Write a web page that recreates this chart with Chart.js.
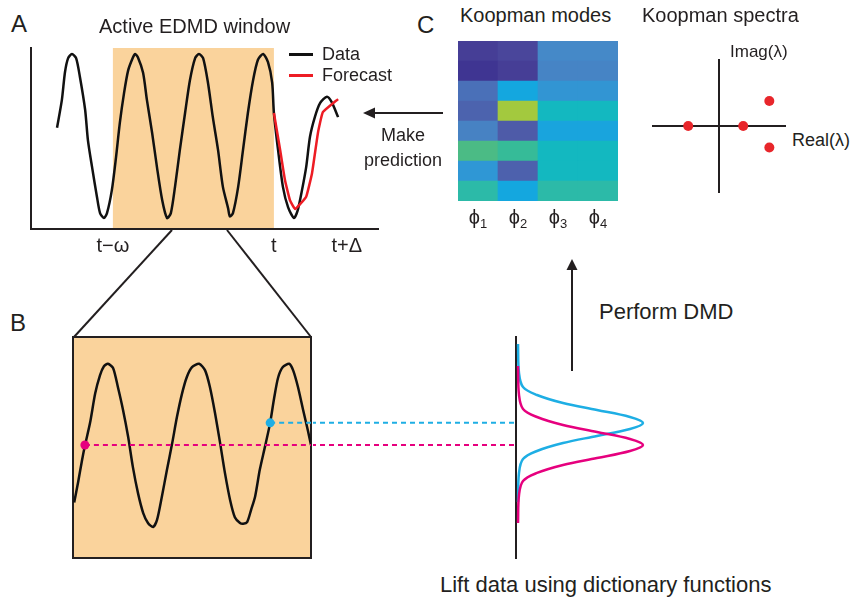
<!DOCTYPE html>
<html>
<head>
<meta charset="utf-8">
<script src="https://cdn.jsdelivr.net/npm/chart.js@4.4.1/dist/chart.umd.min.js"></script>
<style>
  body { margin: 0; background: #fff; }
  #fig { position: relative; width: 854px; height: 600px; overflow: hidden;
         font-family: "Liberation Sans", Arial, sans-serif; color: #231f20; }
  #fig canvas, #fig svg { position: absolute; }
  .lbl { position: absolute; line-height: 1; white-space: nowrap; }
  .key { position: absolute; height: 2.5px; width: 24px; }
  .phi { position: absolute; width: 40px; text-align: center; font-size: 20px; line-height: 1; }
  .phi sub { font-size: 13px; vertical-align: -4px; }
</style>
</head>
<body>
<div id="fig">
  <svg width="854" height="600" style="left:0;top:0">
    <g stroke="#231f20" stroke-width="2" fill="none">
      <line x1="172" y1="230" x2="74" y2="337"/>
      <line x1="227" y1="230" x2="311" y2="337"/>
      <line x1="443" y1="113" x2="372" y2="113"/>
      <line x1="572" y1="371" x2="572" y2="268"/>
    </g>
    <polygon points="363,113 375,107.5 375,118.5" fill="#231f20"/>
    <polygon points="572,259 566.5,270 577.5,270" fill="#231f20"/>
  </svg>

  <canvas id="windowChart" width="370" height="225" style="left:20px;top:40px"></canvas>
  <canvas id="zoomChart" width="248" height="231" style="left:68px;top:332px"></canvas>
  <canvas id="liftChart" width="347" height="231" style="left:313px;top:332px"></canvas>
  <canvas id="modesChart" width="160" height="160" style="left:458px;top:41px"></canvas>
  <canvas id="spectraChart" width="142" height="142" style="left:648px;top:55px"></canvas>

  <div class="lbl" style="left:11px;top:12px;font-size:24px">A</div>
  <div class="lbl" style="left:10px;top:311px;font-size:24px">B</div>
  <div class="lbl" style="left:417px;top:13px;font-size:24px">C</div>
  <div class="lbl" style="left:99px;top:16px;font-size:20px">Active EDMD window</div>
  <div class="key" style="left:289px;top:53px;background:#111"></div>
  <div class="lbl" style="left:322px;top:45px;font-size:18px">Data</div>
  <div class="key" style="left:289px;top:74px;background:#ed1c24"></div>
  <div class="lbl" style="left:322px;top:66px;font-size:18px">Forecast</div>
  <div class="lbl" style="left:363px;top:123px;width:80px;font-size:18px;line-height:25px;text-align:center">Make<br>prediction</div>
  <div class="lbl" style="left:460px;top:5px;font-size:20px">Koopman modes</div>
  <div class="lbl" style="left:642px;top:5px;font-size:20px">Koopman spectra</div>
  <div class="lbl" style="left:730px;top:43px;font-size:17px">Imag(λ)</div>
  <div class="lbl" style="left:792px;top:131px;font-size:18px">Real(λ)</div>
  <div class="lbl" style="left:599px;top:301px;font-size:22px">Perform DMD</div>
  <div class="lbl" style="left:440px;top:574px;font-size:22px">Lift data using dictionary functions</div>
  <div id="phiLabels"></div>
</div>

<script>
/* A: full record, window [t-ω, t], forecast past t */
const DATA_T = [7.5, 8.9, 9.8, 10.7, 11.8, 13.0, 14.1, 15.6, 16.4, 17.6, 19.0, 19.9, 21.0, 21.9, 23.3,
  24.5, 25.6, 26.8, 28.0, 29.4, 30.0, 30.8, 32.3, 33.4, 34.9, 36.3, 37.8, 39.2, 40.3, 41.5,
  42.9, 44.4, 45.8, 47.3, 48.4, 49.6, 51.0, 52.4, 53.9, 55.3, 56.8, 57.3, 58.2, 59.7, 61.1,
  62.5, 64.0, 65.4, 66.9, 68.3, 69.5, 70.0, 71.2, 72.6, 74.1, 75.8, 76.9, 78.1, 79.3, 80.4,
  81.8, 83.3, 85.3, 86.7, 88.5];
const DATA_Y = [0.10, 0.44, 0.78, 0.95, 1.00, 0.95, 0.72, 0.32, -0.05, -0.38, -0.74, -0.94, -1.00, -0.94, -0.66,
  -0.26, 0.16, 0.52, 0.80, 0.96, 1.00, 0.96, 0.77, 0.44, 0.04, -0.38, -0.78, -1.00, -0.94, -0.62,
  -0.17, 0.28, 0.68, 0.95, 1.00, 0.95, 0.65, 0.23, -0.17, -0.62, -0.88, -0.98, -0.94, -0.62, -0.17,
  0.28, 0.68, 0.93, 1.00, 0.90, 0.65, 0.28, -0.17, -0.62, -0.87, -1.00, -0.90, -0.66, -0.38, -0.01,
  0.23, 0.40, 0.48, 0.41, 0.23];
const FORECAST_T = [70.0, 71.8, 73.2, 74.6, 76.1, 79.3, 81.0, 82.7, 84.1, 88.5];
const FORECAST_Y = [0.28, -0.17, -0.54, -0.78, -0.89, -0.74, -0.45, 0.04, 0.29, 0.45];
const WINDOW = [23.6, 70.0];
const TIME_TICKS = [23.6, 70.0, 91.0];
const TIME_TICK_LABELS = ['t\u2212\u03c9', 't', 't+\u0394'];

/* B: the window, zoomed */
const ZOOM_T = [0.3, 1.3, 2.3, 3.0, 4.3, 5.6, 6.8, 7.8, 8.8, 10.1, 11.3, 12.6, 13.9, 15.1, 16.4, 17.7,
  18.9, 20.2, 21.2, 22.4, 23.7, 25.0, 26.2, 27.5, 28.7, 30.0, 31.8, 33.3, 34.5, 35.8, 37.1, 38.3,
  39.6, 40.8, 42.1, 42.9, 43.9, 44.9, 45.9, 47.1, 48.4, 49.7, 50.7, 51.7, 52.9, 54.5, 55.5, 56.7,
  58.0, 59.2, 60.0];
const ZOOM_Y = [-0.70, -0.45, -0.18, -0.01, 0.27, 0.63, 0.85, 0.96, 0.99, 0.94, 0.71, 0.43, 0.10, -0.27, -0.59, -0.83,
  -0.95, -1.00, -0.91, -0.63, -0.30, 0.02, 0.34, 0.63, 0.83, 0.95, 0.99, 0.91, 0.71, 0.39, 0.02, -0.34,
  -0.67, -0.88, -0.95, -0.96, -0.94, -0.79, -0.63, -0.30, -0.02, 0.27, 0.57, 0.82, 0.95, 0.99, 0.91, 0.71,
  0.43, 0.18, 0.00];
const SAMPLE_T = [3.0, 49.7];     // magenta, cyan
const SAMPLE_LEVEL = [0.0, 0.27];

/* dictionary functions (value of function, state) */
const CYAN_PHI = [0.016, 0.024, 0.056, 0.168, 0.376, 0.648, 0.912, 1.016, 0.912, 0.648, 0.376, 0.168, 0.056, 0.024, 0.016];
const CYAN_X = [1.232, 0.878, 0.707, 0.610, 0.512, 0.427, 0.341, 0.268, 0.195, 0.110, 0.024, -0.073, -0.171, -0.341, -0.695];
const MAGENTA_PHI = [0.016, 0.024, 0.056, 0.168, 0.376, 0.648, 0.912, 1.016, 0.912, 0.648, 0.376, 0.168, 0.056, 0.024, 0.016];
const MAGENTA_X = [0.963, 0.610, 0.439, 0.341, 0.244, 0.159, 0.073, 0.0, -0.073, -0.159, -0.244, -0.341, -0.439, -0.610, -0.951];

/* C: Koopman modes, rows top to bottom */
const MODE_LABELS = ['1', '2', '3', '4'];
const MODE_PHI1 = [0.06, 0.00, 0.30, 0.24, 0.37, 0.85, 0.47, 0.70];
const MODE_PHI2 = [0.11, 0.06, 0.53, 1.00, 0.20, 0.77, 0.23, 0.53];
const MODE_PHI3 = [0.40, 0.38, 0.46, 0.62, 0.52, 0.62, 0.62, 0.70];
const MODE_PHI4 = [0.40, 0.38, 0.46, 0.62, 0.52, 0.62, 0.62, 0.70];

/* Koopman spectra */
const EIG_RE = [-1.12, 0.88, 1.83, 1.83];
const EIG_IM = [0.0, 0.0, 0.91, -0.78];

const INK = '#231f20';
const ORANGE = '#fad39c';
const MAGENTA = '#e6007e';
const CYAN = '#1eaee4';
const MODE_STOPS = [[0, '#3f3592'], [0.1, '#4a4499'], [0.2, '#4e5ba8'], [0.3, '#4a70b8'], [0.4, '#4589c8'],
  [0.47, '#2f97d5'], [0.53, '#14a7df'], [0.62, '#13b8c0'], [0.7, '#2cbaa8'], [0.77, '#36bb98'],
  [0.85, '#4bbb85'], [1, '#a3c93e']];

Chart.defaults.font.family = '"Liberation Sans", Arial, sans-serif';
Chart.defaults.color = INK;
Chart.defaults.animation = false;
Chart.defaults.events = [];
Chart.defaults.plugins.legend.display = false;
Chart.defaults.plugins.tooltip.enabled = false;

const pts = (xs, ys) => xs.map((x, i) => ({ x, y: ys[i] }));
const curve = (data, color, extra) => Object.assign({ data, showLine: true, borderColor: color,
  borderWidth: 2.5, pointRadius: 0, fill: false, tension: 0.3 }, extra);
const hidden = { grid: { display: false, drawTicks: false }, ticks: { display: false } };
const edge = (extra) => Object.assign({}, hidden, { border: { color: INK, width: 2 } }, extra);

function mix(a, b, f) {
  const pa = [1, 3, 5].map((i) => parseInt(a.substr(i, 2), 16));
  const pb = [1, 3, 5].map((i) => parseInt(b.substr(i, 2), 16));
  return 'rgb(' + pa.map((v, i) => Math.round(v + (pb[i] - v) * f)).join(',') + ')';
}
function modeColour(v) {
  for (let i = 1; i < MODE_STOPS.length; i++) {
    const [v0, c0] = MODE_STOPS[i - 1], [v1, c1] = MODE_STOPS[i];
    if (v <= v1) return mix(c0, c1, (v - v0) / (v1 - v0));
  }
  return MODE_STOPS[MODE_STOPS.length - 1][1];
}

// orange background: the window span in A, the whole plot area in B
const shade = {
  id: 'shade',
  beforeDraw(chart, args, opts) {
    if (!opts.color) return;
    const { ctx, chartArea: a, scales: { x } } = chart;
    const l = opts.from == null ? a.left : x.getPixelForValue(opts.from);
    const r = opts.to == null ? a.right : x.getPixelForValue(opts.to);
    ctx.save();
    ctx.fillStyle = opts.color;
    ctx.fillRect(l, a.top, r - l, a.bottom - a.top);
    ctx.restore();
  },
};

/* ---------- A ---------- */
new Chart(document.getElementById('windowChart'), {
  type: 'scatter',
  data: { datasets: [
    curve(pts(FORECAST_T, FORECAST_Y), '#ed1c24', { tension: 0.1 }),
    curve(pts(DATA_T, DATA_Y), '#111', { tension: 0.25 }),
  ] },
  options: {
    responsive: false,
    layout: { padding: { left: 11, top: 8, right: 12, bottom: 0 } },
    plugins: { shade: { from: WINDOW[0], to: WINDOW[1], color: ORANGE } },
    scales: {
      x: edge({ min: 0, max: 100,
        afterBuildTicks: (s) => { s.ticks = TIME_TICKS.map((value) => ({ value })); },
        ticks: { display: true, autoSkip: false, maxRotation: 0, padding: 5, color: INK,
          font: { size: 20 }, callback: (v, i) => TIME_TICK_LABELS[i] },
        afterFit: (s) => { s.height = 36; } }),
      y: edge({ min: -1.134, max: 1.073, afterFit: (s) => { s.width = 0; } }),
    },
  },
  plugins: [shade],
});

/* ---------- B ---------- */
const Y_RANGE = { min: -1.378, max: 1.317 };
new Chart(document.getElementById('zoomChart'), {
  type: 'scatter',
  data: { datasets: [
    { data: [{ x: SAMPLE_T[0], y: SAMPLE_LEVEL[0] }], pointRadius: 4.5, pointBackgroundColor: MAGENTA, pointBorderWidth: 0 },
    { data: [{ x: SAMPLE_T[1], y: SAMPLE_LEVEL[1] }], pointRadius: 4.5, pointBackgroundColor: CYAN, pointBorderWidth: 0 },
    curve([{ x: SAMPLE_T[0], y: SAMPLE_LEVEL[0] }, { x: 60, y: SAMPLE_LEVEL[0] }], MAGENTA, { borderWidth: 2, borderDash: [5, 4], tension: 0 }),
    curve([{ x: SAMPLE_T[1], y: SAMPLE_LEVEL[1] }, { x: 60, y: SAMPLE_LEVEL[1] }], CYAN, { borderWidth: 2, borderDash: [5, 4], tension: 0 }),
    curve(pts(ZOOM_T, ZOOM_Y), '#111', { tension: 0.25 }),
  ] },
  options: {
    responsive: false,
    layout: { padding: 5 },
    plugins: { shade: { color: ORANGE } },
    scales: {
      x: edge({ min: 0, max: 60, afterFit: (s) => { s.height = 0; } }),
      x2: edge({ position: 'top', min: 0, max: 60, afterFit: (s) => { s.height = 0; } }),
      y: edge(Object.assign({ afterFit: (s) => { s.width = 0; } }, Y_RANGE)),
      y2: edge(Object.assign({ position: 'right', afterFit: (s) => { s.width = 0; } }, Y_RANGE)),
    },
  },
  plugins: [shade],
});

/* ---------- lifting ---------- */
new Chart(document.getElementById('liftChart'), {
  type: 'scatter',
  data: { datasets: [
    curve(pts(MAGENTA_PHI, MAGENTA_X), MAGENTA, { tension: 0.35 }),
    curve(pts(CYAN_PHI, CYAN_X), CYAN, { tension: 0.35 }),
    curve([{ x: -2, y: SAMPLE_LEVEL[0] }, { x: 0, y: SAMPLE_LEVEL[0] }], MAGENTA, { borderWidth: 2, borderDash: [5, 4], tension: 0 }),
    curve([{ x: -2, y: SAMPLE_LEVEL[1] }, { x: 0, y: SAMPLE_LEVEL[1] }], CYAN, { borderWidth: 2, borderDash: [5, 4], tension: 0 }),
  ] },
  options: {
    responsive: false,
    layout: { padding: { top: 5, bottom: 5, left: 0, right: 0 } },
    scales: {
      x: { display: false, min: -1.624, max: 1.152 },
      y: edge(Object.assign({ position: { x: 0 }, afterFit: (s) => { s.width = 0; } }, Y_RANGE)),
    },
  },
});

/* ---------- C: modes heatmap ---------- */
const modeCols = [MODE_PHI1, MODE_PHI2, MODE_PHI3, MODE_PHI4];
const modeRows = MODE_PHI1.map((_, r) => r).reverse(); // stack bottom row first
new Chart(document.getElementById('modesChart'), {
  type: 'bar',
  data: {
    labels: MODE_LABELS,
    datasets: modeRows.map((r) => ({
      data: MODE_LABELS.map(() => 1),
      backgroundColor: modeCols.map((col) => modeColour(col[r])),
      borderWidth: 0, barPercentage: 1, categoryPercentage: 1,
    })),
  },
  options: {
    responsive: false,
    scales: {
      x: { display: false, stacked: true },
      y: { display: false, stacked: true, min: 0, max: MODE_PHI1.length },
    },
  },
});
document.getElementById('phiLabels').innerHTML = MODE_LABELS
  .map((n, i) => `<div class="phi" style="left:${458 + i * 40}px;top:207px">\u03d5<sub>${n}</sub></div>`).join('');

/* ---------- C: spectra ---------- */
new Chart(document.getElementById('spectraChart'), {
  type: 'scatter',
  data: { datasets: [{ data: pts(EIG_RE, EIG_IM), pointRadius: 5, pointBackgroundColor: '#e8262b', pointBorderWidth: 0 }] },
  options: {
    responsive: false,
    scales: {
      x: edge({ min: -2.4, max: 2.4, position: { y: 0 }, afterFit: (s) => { s.height = 0; } }),
      y: edge({ min: -2.4, max: 2.4, position: { x: 0 }, afterFit: (s) => { s.width = 0; } }),
    },
  },
});
</script>
</body>
</html>
